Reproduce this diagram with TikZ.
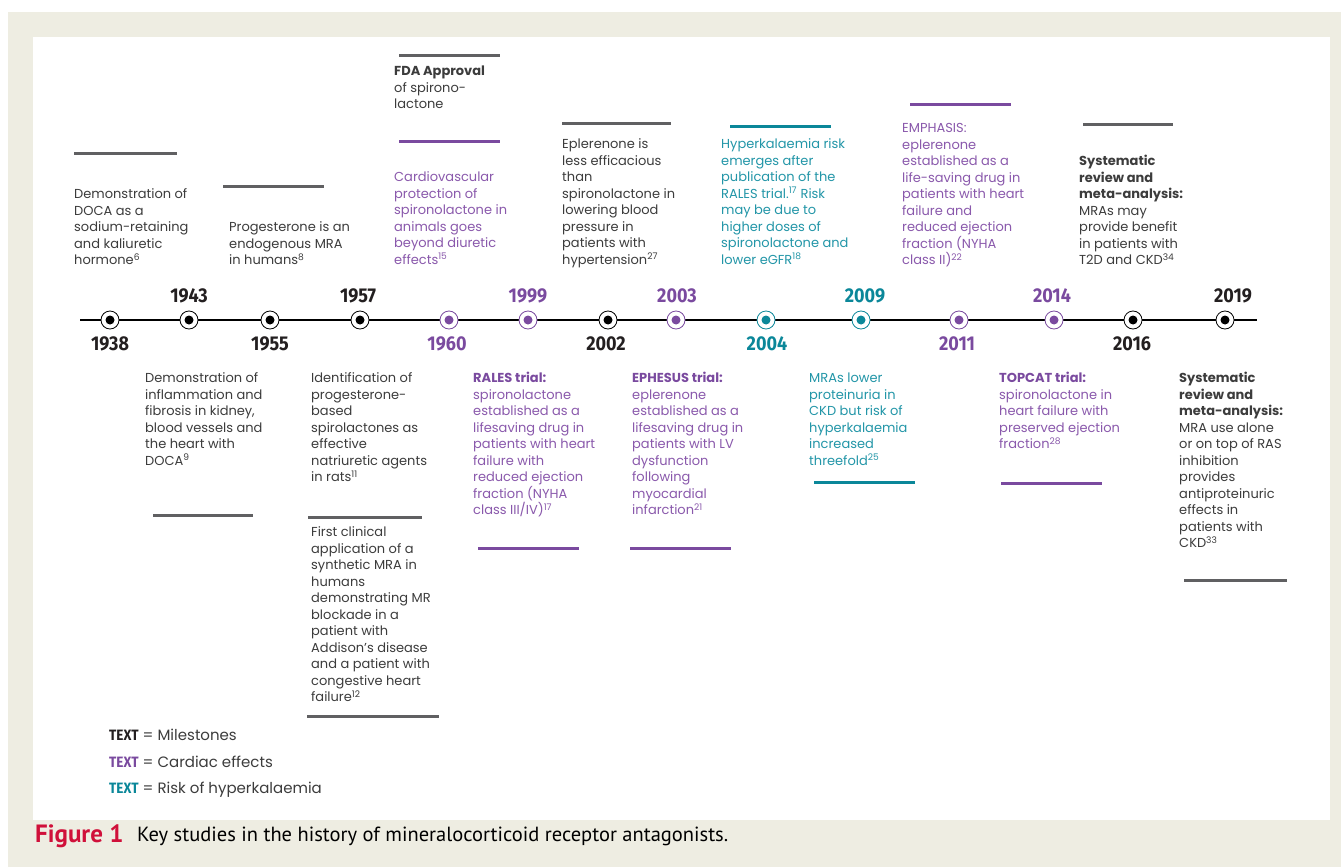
\documentclass[tikz,border=0pt]{standalone}
\usepackage{fontspec}
\setmainfont{Poppins}
\newfontfamily\yearfont[FakeStretch=0.9]{Fira Sans}
\newfontfamily\capfont{PT Sans}
\definecolor{bgbeige}{HTML}{EEEDE2}
\definecolor{txtgray}{HTML}{3C3C3C}
\definecolor{bargray}{HTML}{606062}
\definecolor{purp}{HTML}{8A59AC}
\definecolor{purpdark}{HTML}{7A4A9F}
\definecolor{tealt}{HTML}{2396A8}
\definecolor{teald}{HTML}{0B8799}
\definecolor{crim}{HTML}{D0103A}
\definecolor{yblack}{HTML}{231F20}
\newcommand\bodyfont{\fontsize{13}{16.5}\selectfont}
\begin{document}
\begin{tikzpicture}[x=1pt,y=-1pt,
  txt/.style={anchor=north west, inner sep=0pt, align=left, font=\bodyfont, text=txtgray},
  ptxt/.style={txt, text=purp},
  ttxt/.style={txt, text=tealt},
  bar/.style={line width=3pt, draw=bargray},
  pbar/.style={bar, draw=purpdark},
  tbar/.style={bar, draw=teald},
  yr/.style={font=\yearfont\bfseries\fontsize{20}{22}\selectfont, inner sep=0pt, anchor=center},
  dotc/.style={circle, draw=#1, fill=white, line width=0.8pt, minimum size=18pt, inner sep=0pt,
    path picture={\fill[#1] (path picture bounding box.center) circle (4.5pt);}},
  leg/.style={anchor=west, inner sep=0pt, font=\fontsize{15}{17}\selectfont, text=txtgray}
]
\useasboundingbox (0,0) rectangle (1341,867);
\fill[bgbeige] (8,12) rectangle (1341,867);
\fill[white] (33,37) rectangle (1330,820);

% timeline
\coordinate (tlA) at (80,320);
\coordinate (tlB) at (1257,320);
\draw[line width=1.3pt, black] (tlA) -- (tlB);

\node[dotc=black] (c1938) at (110,320) {};
\node[dotc=black] (c1943) at (189,320) {};
\node[dotc=black] (c1955) at (270,320) {};
\node[dotc=black] (c1957) at (360,320) {};
\node[dotc=purpdark] (c1960) at (449,320) {};
\node[dotc=purpdark] (c1999) at (528,320) {};
\node[dotc=black] (c2002) at (608,320) {};
\node[dotc=purpdark] (c2003) at (676,320) {};
\node[dotc=teald] (c2004) at (766,320) {};
\node[dotc=teald] (c2009) at (861,320) {};
\node[dotc=purpdark] (c2011) at (959,320) {};
\node[dotc=purpdark] (c2014) at (1054,320) {};
\node[dotc=black] (c2016) at (1133,320) {};
\node[dotc=black] (c2019) at (1225,320) {};

% years above
\node[yr, text=yblack] (l1943) at (189,296) {1943};
\node[yr, text=yblack] (l1957) at (358,296) {1957};
\node[yr, text=purpdark] (l1999) at (528,296) {1999};
\node[yr, text=purpdark] (l2003) at (677,296) {2003};
\node[yr, text=teald] (l2009) at (865,296) {2009};
\node[yr, text=purpdark] (l2014) at (1052,296) {2014};
\node[yr, text=yblack] (l2019) at (1233,296) {2019};
% years below
\node[yr, text=yblack] (l1938) at (110,344) {1938};
\node[yr, text=yblack] (l1955) at (270,344) {1955};
\node[yr, text=purpdark] (l1960) at (447,344) {1960};
\node[yr, text=yblack] (l2002) at (606,344) {2002};
\node[yr, text=teald] (l2004) at (767,344) {2004};
\node[yr, text=purpdark] (l2011) at (957,344) {2011};
\node[yr, text=yblack] (l2016) at (1132,344) {2016};

% bars
\draw[bar] (74,153) -- (177,153);
\draw[bar] (223,186) -- (324,186);
\draw[bar] (399,56) -- (500,56);
\draw[pbar] (399,141) -- (500,141);
\draw[bar] (562,123) -- (671,123);
\draw[tbar] (730,126) -- (831,126);
\draw[pbar] (910,104) -- (1011,104);
\draw[bar] (1083,124) -- (1173,124);
\draw[bar] (153,515) -- (253,515);
\draw[bar] (308,517) -- (422,517);
\draw[bar] (307,716) -- (439,716);
\draw[pbar] (478,548) -- (579,548);
\draw[pbar] (630,548) -- (731,548);
\draw[tbar] (814,482) -- (915,482);
\draw[pbar] (1001,483) -- (1102,483);
\draw[bar] (1184,580) -- (1287,580);

% top texts
\node[txt] (t1) at (74,187) {\strut Demonstration of\\DOCA as a\\sodium-retaining\\and kaliuretic\\hormone\textsuperscript{6}};
\node[txt] (t2) at (229,220) {\strut Progesterone is an\\endogenous MRA\\in humans\textsuperscript{8}};
\node[txt] (t3a) at (394,64) {\strut\textbf{FDA Approval}\\of spirono-\\lactone};
\node[ptxt] (t3b) at (394,170) {\strut Cardiovascular\\protection of\\spironolactone in\\animals goes\\beyond diuretic\\effects\textsuperscript{15}};
\node[txt] (t4) at (562,137) {\strut Eplerenone is\\less efficacious\\than\\spironolactone in\\lowering blood\\pressure in\\patients with\\hypertension\textsuperscript{27}};
\node[ttxt] (t5) at (721,137) {\strut Hyperkalaemia risk\\emerges after\\publication of the\\RALES trial.\textsuperscript{17} Risk\\may be due to\\higher doses of\\spironolactone and\\lower eGFR\textsuperscript{18}};
\node[ptxt] (t6) at (902,121) {\strut EMPHASIS:\\eplerenone\\established as a\\life-saving drug in\\patients with heart\\failure and\\reduced ejection\\fraction (NYHA\\class II)\textsuperscript{22}};
\node[txt] (t7) at (1079,154) {\strut\textbf{Systematic}\\\textbf{review and}\\\textbf{meta-analysis:}\\MRAs may\\provide benefit\\in patients with\\T2D and CKD\textsuperscript{34}};

% bottom texts
\node[txt] (b8) at (145,371) {\strut Demonstration of\\inflammation and\\fibrosis in kidney,\\blood vessels and\\the heart with\\DOCA\textsuperscript{9}};
\node[txt] (b9a) at (311,371) {\strut Identification of\\progesterone-\\based\\spirolactones as\\effective\\natriuretic agents\\in rats\textsuperscript{11}};
\node[txt] (b9b) at (311,525) {\strut First clinical\\application of a\\synthetic MRA in\\humans\\demonstrating MR\\blockade in a\\patient with\\Addison’s disease\\and a patient with\\congestive heart\\failure\textsuperscript{12}};
\node[ptxt] (b10) at (473,371) {\strut\textbf{\color{purpdark}RALES trial:}\\spironolactone\\established as a\\lifesaving drug in\\patients with heart\\failure with\\reduced ejection\\fraction (NYHA\\class III/IV)\textsuperscript{17}};
\node[ptxt] (b11) at (632,371) {\strut\textbf{\color{purpdark}EPHESUS trial:}\\eplerenone\\established as a\\lifesaving drug in\\patients with LV\\dysfunction\\following\\myocardial\\infarction\textsuperscript{21}};
\node[ttxt] (b12) at (809,371) {\strut MRAs lower\\proteinuria in\\CKD but risk of\\hyperkalaemia\\increased\\threefold\textsuperscript{25}};
\node[ptxt] (b13) at (999,371) {\strut\textbf{\color{purpdark}TOPCAT trial:}\\spironolactone in\\heart failure with\\preserved ejection\\fraction\textsuperscript{28}};
\node[txt] (b14) at (1179,371) {\strut\textbf{Systematic}\\\textbf{review and}\\\textbf{meta-analysis:}\\MRA use alone\\or on top of RAS\\inhibition\\provides\\antiproteinuric\\effects in\\patients with\\CKD\textsuperscript{33}};

% legend
\node[leg] (lg1) at (109,735) {{\yearfont\bfseries\color{yblack}TEXT} = Milestones};
\node[leg] (lg2) at (109,762) {{\yearfont\bfseries\color{purpdark}TEXT} = Cardiac effects};
\node[leg] (lg3) at (109,790) {{\yearfont\bfseries\color{teald}TEXT} = Risk of hyperkalaemia};

% caption
\node[anchor=west, inner sep=0pt, font=\capfont\bfseries\fontsize{25}{27}\selectfont, text=crim] (figl) at (35,836) {Figure 1};
\node[anchor=west, inner sep=0pt, font=\capfont\fontsize{20.5}{22}\selectfont, text=black] (capt) at (137,836) {Key studies in the history of mineralocorticoid receptor antagonists.};
\end{tikzpicture}
\end{document}
